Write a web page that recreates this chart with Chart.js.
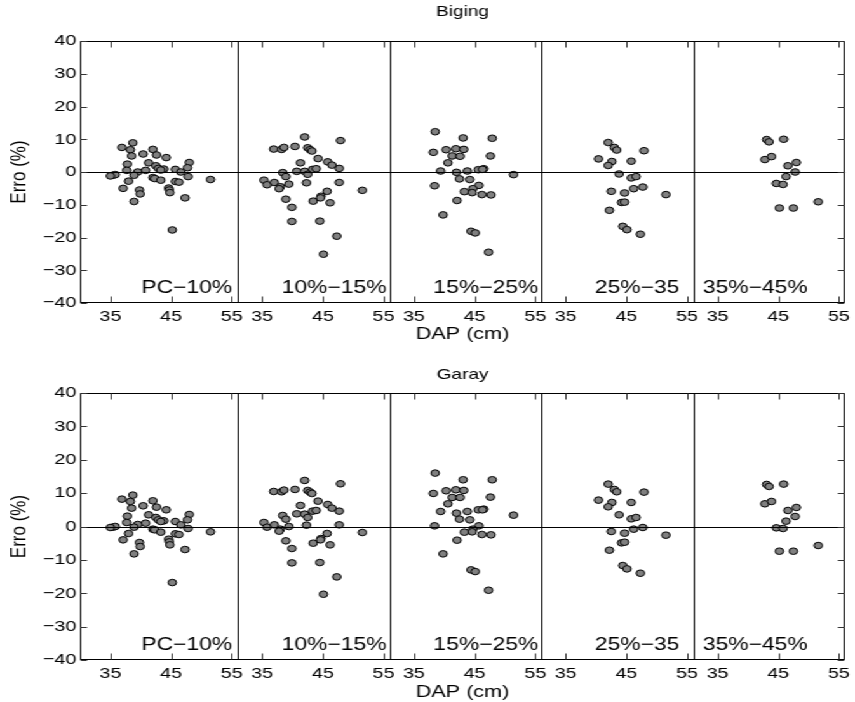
<!DOCTYPE html>
<html><head><meta charset="utf-8">
<script src="https://cdn.jsdelivr.net/npm/chart.js@4.4.0/dist/chart.umd.min.js"></script>
<style>
html,body{margin:0;padding:0;background:#fff;overflow:hidden}
#wrap{width:673px;transform:scaleX(1.2704);transform-origin:0 0}
canvas{display:block}
</style>
</head><body>
<div id="wrap">
<canvas id="c1" width="673" height="351"></canvas>
<canvas id="c2" width="673" height="351"></canvas>
</div>
<script>
// ---------- DATA ----------
const categories = ['PC\u221210%', '10%\u221215%', '15%\u221225%', '25%\u221235', '35%\u221245%'];
const panelTitles = ['Biging', 'Garay'];
const xTickLabels = [35, 45, 55];
const yTickValues = [-40, -30, -20, -10, 0, 10, 20, 30, 40];

// DAP (cm) per class (same trees in both panels)
const dapPC = [38.7,36.9,38.3,42.0,40.4,42.6,38.5,44.2,48.0,41.3,37.8,42.5,42.9,47.7,43.8,43.3,37.7,40.8,45.7,46.6,39.5,38.9,35.4,35.8,35.0,42.0,42.3,43.3,38.0,47.8,45.7,46.3,51.5,37.1,39.8,39.9,44.6,44.7,44.8,47.3,38.9,45.2];
const dap10_15 = [42.0,47.9,36.9,38.2,38.6,40.4,42.5,42.9,43.2,44.2,41.3,45.8,46.5,47.7,43.3,43.9,40.7,42.0,42.5,38.4,38.9,35.3,35.8,37.0,38.0,37.8,39.4,42.3,47.7,51.5,45.7,44.7,44.6,43.4,46.2,38.9,39.9,39.9,44.5,47.3,45.1];
const dap15_25 = [38.5,43.1,47.9,38.2,40.3,41.9,43.2,41.3,42.6,47.6,40.6,39.4,42.0,43.8,45.6,46.5,46.3,51.4,42.5,44.2,38.4,45.7,44.7,43.3,44.6,46.2,47.7,42.1,39.8,44.4,45.1,47.3];
const dap25_35 = [42.0,43.0,43.4,47.9,40.4,42.6,42.0,45.8,43.8,45.8,46.6,42.5,44.7,46.2,47.7,51.5,44.2,44.7,42.2,44.4,45.1,47.3];
const dap35_45 = [43.1,43.5,45.9,42.8,43.9,46.6,48.0,47.8,46.3,44.7,45.8,51.6,45.2,47.5];

// Erro (%) - Biging
const bigingPC = [8.9,7.5,6.8,6.9,5.5,5.2,4.9,4.4,2.9,2.8,2.4,1.9,1.1,1.3,0.9,0.6,0.5,0.5,0.8,0,0,-1.0,-1.0,-0.8,-1.2,-1.7,-2.0,-2.5,-2.8,-1.4,-2.9,-3.1,-2.3,-5.0,-5.5,-6.7,-4.9,-5.5,-6.3,-7.9,-9.0,-17.7];
const biging10_15 = [10.7,9.6,7.0,6.9,7.5,7.8,7.4,6.8,6.4,4.1,2.8,3.1,2.1,1.1,0.8,1.0,0.2,0.2,-0.7,-0.2,-1.4,-2.5,-3.9,-3.2,-4.5,-5.1,-3.7,-3.3,-3.2,-5.6,-5.9,-7.4,-7.9,-8.9,-9.4,-8.3,-10.8,-15.1,-15.0,-19.6,-25.1];
const biging15_25 = [12.3,10.4,10.3,6.0,6.8,7.1,6.9,4.9,4.8,4.9,2.8,0.3,-0.1,0.3,0.7,1.0,0.8,-0.8,-2.1,-2.3,-4.2,-4.1,-5.1,-6.0,-6.3,-6.9,-7.0,-8.7,-13.1,-18.1,-18.6,-24.5];
const biging25_35 = [9.0,7.5,6.7,6.5,4.0,3.2,2.0,3.3,-0.6,-1.8,-1.4,-5.9,-6.4,-5.1,-4.6,-6.9,-9.3,-9.2,-11.7,-16.6,-17.6,-19.0];
const biging35_45 = [9.9,9.2,10.0,3.8,4.7,1.9,2.9,0,-1.4,-3.5,-3.8,-9.1,-11.0,-11.0];

// Erro (%) - Garay
const garayPC = [9.4,8.2,7.5,7.7,6.2,5.8,5.5,5.0,3.6,3.5,3.1,2.7,2.0,2.0,1.7,1.5,1.2,1.0,1.5,0.5,0.6,-0.2,-0.2,0,-0.3,-0.8,-1.0,-1.7,-2.1,-0.6,-2.2,-2.4,-1.6,-4.0,-4.8,-6.0,-3.8,-4.6,-5.5,-6.9,-8.2,-16.8];
const garay10_15 = [13.8,12.8,10.5,10.4,10.9,11.1,10.8,10.3,9.9,7.6,6.3,6.6,5.5,4.6,4.6,4.8,3.8,3.7,2.7,3.3,2.2,1.2,-0.2,0.5,-0.8,-1.4,0,0.4,0.5,-1.8,-2.1,-3.6,-4.0,-5.0,-5.5,-4.3,-6.6,-10.9,-10.8,-15.1,-20.3];
const garay15_25 = [16.0,14.0,14.0,9.9,10.7,11.0,10.8,8.7,8.7,8.8,6.8,4.5,4.0,4.5,5.0,5.2,5.0,3.4,2.2,2.0,0.2,0.2,-0.8,-1.7,-1.6,-2.4,-2.5,-4.1,-8.2,-13.0,-13.5,-19.1];
const garay25_35 = [12.7,11.1,10.4,10.3,7.9,7.2,5.9,7.2,3.5,2.3,2.7,-1.5,-2.0,-0.8,-0.3,-2.6,-4.9,-4.7,-7.1,-11.7,-12.7,-14.0];
const garay35_45 = [12.6,12.0,12.7,6.8,7.5,4.8,5.7,3.0,1.6,-0.4,-0.6,-5.7,-7.4,-7.4];

// ---------- LAYOUT ----------
const dapByClass = [dapPC, dap10_15, dap15_25, dap25_35, dap35_45];
const bigingByClass = [bigingPC, biging10_15, biging15_25, biging25_35, biging35_45];
const garayByClass = [garayPC, garay10_15, garay15_25, garay25_35, garay35_45];
const PANEL_SHIFT = 25;          // each class panel spans 25 cm of DAP
const X_MIN = 30, X_MAX = 156;
const labelDapPos = [40.1, 38.2, 38.2, 39.8, 32.6];
const FONT = '"Liberation Sans", Arial, Helvetica, sans-serif';
const MINUS = '\u2212';

function panelIndex(v) { return Math.max(0, Math.min(4, Math.floor((v - 31) / PANEL_SHIFT))); }

function makeChart(id, title, errs, geom) {
  const canvas = document.getElementById(id);
  const H = canvas.height;
  const datasets = dapByClass.map((daps, k) => ({
    label: categories[k],
    data: daps.map((d, i) => ({ x: d + PANEL_SHIFT * k, y: errs[k][i] })),
    pointStyle: 'circle',
    pointRadius: 3.3,
    borderWidth: 1,
    backgroundColor: '#808080',
    borderColor: '#000',
    showLine: false
  }));

  const deco = {
    id: 'deco',
    beforeDraw(chart) {
      const ctx = chart.ctx;
      ctx.save(); ctx.fillStyle = '#fff'; ctx.fillRect(0, 0, chart.width, chart.height); ctx.restore();
    },
    afterDatasetsDraw(chart) {
      const ctx = chart.ctx, a = chart.chartArea;
      const xs = chart.scales.x, ys = chart.scales.y;
      ctx.save();
      ctx.strokeStyle = '#000'; ctx.lineWidth = 1;
      const y0 = Math.round(ys.getPixelForValue(0)) + 0.5;
      ctx.beginPath(); ctx.moveTo(a.left, y0); ctx.lineTo(a.right, y0); ctx.stroke();
      const L = Math.round(a.left) + 0.5, R = Math.round(a.right) - 0.5, T = Math.round(a.top) + 0.5, B = Math.round(a.bottom) - 0.5;
      ctx.strokeRect(L, T, R - L, B - T);
      for (let k = 1; k < 5; k++) {
        const px = Math.round(xs.getPixelForValue(56 + PANEL_SHIFT * (k - 1))) + 0.5;
        ctx.beginPath(); ctx.moveTo(px, a.top); ctx.lineTo(px, a.bottom); ctx.stroke();
      }
      ctx.strokeStyle = '#333';
      xs.ticks.forEach(t => {
        const px = Math.round(xs.getPixelForValue(t.value)) + 0.5;
        ctx.beginPath(); ctx.moveTo(px, B); ctx.lineTo(px, B - 6); ctx.moveTo(px, T); ctx.lineTo(px, T + 6); ctx.stroke();
      });
      ys.ticks.forEach(t => {
        const py = Math.round(ys.getPixelForValue(t.value)) + 0.5;
        ctx.beginPath(); ctx.moveTo(L, py); ctx.lineTo(L + 5, py); ctx.moveTo(R, py); ctx.lineTo(R - 5, py); ctx.stroke();
      });
      ctx.fillStyle = '#000';
      ctx.font = '18px ' + FONT;
      ctx.textAlign = 'left'; ctx.textBaseline = 'alphabetic';
      categories.forEach((c, k) => {
        ctx.fillText(c, xs.getPixelForValue(labelDapPos[k] + PANEL_SHIFT * k), a.bottom - geom.labelOff);
      });
      const cx = (a.left + a.right) / 2;
      ctx.textAlign = 'center'; ctx.textBaseline = 'middle';
      ctx.font = '15px ' + FONT;
      ctx.fillText(title, cx, geom.titleY);
      ctx.font = '17px ' + FONT;
      ctx.fillText('DAP (cm)', cx, geom.dapY);
      ctx.translate(15.5, (a.top + a.bottom) / 2);
      ctx.rotate(-Math.PI / 2);
      ctx.fillText('Erro (%)', 0, 0);
      ctx.restore();
    }
  };

  return new Chart(canvas, {
    type: 'scatter',
    data: { datasets },
    plugins: [deco],
    options: {
      responsive: false,
      animation: false,
      devicePixelRatio: 1,
      events: [],
      layout: { padding: { top: geom.top, right: 5, left: 0, bottom: 0 } },
      plugins: { legend: { display: false }, tooltip: { enabled: false }, title: { display: false } },
      scales: {
        x: {
          type: 'linear', min: X_MIN, max: X_MAX,
          afterBuildTicks: s => {
            const t = [];
            for (let k = 0; k < 5; k++) xTickLabels.forEach(v => t.push({ value: v + PANEL_SHIFT * k }));
            s.ticks = t;
          },
          afterFit: s => { s.height = H - geom.bottom; },
          grid: { display: false, drawTicks: false },
          border: { display: false },
          ticks: {
            autoSkip: false, maxRotation: 0, padding: 4, color: '#000',
            font: { family: FONT, size: 15.5 },
            callback: v => String(v - PANEL_SHIFT * panelIndex(v))
          }
        },
        y: {
          type: 'linear', min: -40, max: 40,
          afterBuildTicks: s => { s.ticks = yTickValues.map(v => ({ value: v })); },
          afterFit: s => { s.width = 63; },
          grid: { display: false, drawTicks: false },
          border: { display: false },
          ticks: {
            padding: 3, color: '#000',
            font: { family: FONT, size: 15.5 },
            callback: v => v < 0 ? MINUS + Math.abs(v) : String(v)
          }
        }
      }
    }
  });
}

makeChart('c1', panelTitles[0], bigingByClass, { top: 41, bottom: 303, titleY: 12, dapY: 334, labelOff: 10 });
makeChart('c2', panelTitles[1], garayByClass, { top: 42, bottom: 309, titleY: 24, dapY: 341, labelOff: 10 });
</script>
</body></html>
